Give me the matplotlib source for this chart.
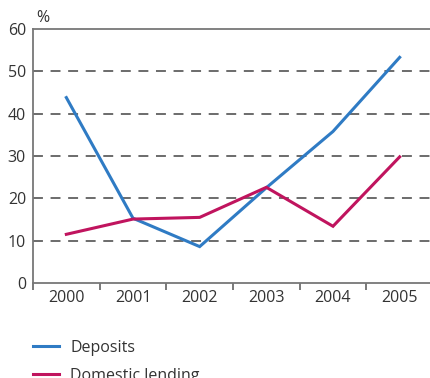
import matplotlib
matplotlib.use("Agg")
import matplotlib.pyplot as plt
from matplotlib.lines import Line2D

years = ["2000", "2001", "2002", "2003", "2004", "2005"]
deposits = [43.8, 15.3, 8.6, 22.5, 35.8, 53.3]
lending = [11.5, 15.1, 15.5, 22.6, 13.4, 29.8]
yticks = [0, 10, 20, 30, 40, 50, 60]

plt.rcParams['font.family'] = ['Open Sans', 'DejaVu Sans']
W, H = 430, 378
fig = plt.figure(figsize=(W/100, H/100), dpi=100)
ax = fig.add_axes([33/W, 1-283/H, 400/W, 254/H])

blue = '#2f7bc4'
red = '#c0145e'
x = list(range(len(years)))
ax.plot(x, deposits, color=blue, lw=2.2, solid_joinstyle='miter', zorder=3)
ax.plot(x, lending, color=red, lw=2.2, solid_joinstyle='miter', zorder=3)

ax.set_xlim(-0.5, 5.5)
ax.set_ylim(0, 60)
for v in yticks[1:-1]:
    ax.axhline(v, color='#444444', lw=1.1, dashes=(6.5, 5), zorder=1)

ax.set_yticks(yticks)
ax.set_yticklabels([str(v) for v in yticks], fontsize=11.5, color='#333333')
ax.tick_params(axis='y', length=0, pad=5)
ax.set_xticks(x)
ax.set_xticklabels(years, fontsize=11.5, color='#333333')
ax.set_xticks([i - 0.5 for i in range(len(years) + 1)], minor=True)
ax.tick_params(axis='x', which='major', length=0, pad=5)
ax.tick_params(axis='x', which='minor', length=5, width=1.1, color='#555555', direction='out')

for s in ['left', 'bottom', 'top']:
    ax.spines[s].set_color('#777777')
    ax.spines[s].set_linewidth(1.3)
ax.spines['right'].set_visible(False)

fig.text(36/W, 1-18/H, '%', fontsize=11.5, color='#333333', va='center', ha='left')

handles = [Line2D([], [], color=blue, lw=2.2), Line2D([], [], color=red, lw=2.2)]
fig.legend(handles, ['Deposits', 'Domestic lending'], loc='upper left',
           bbox_to_anchor=(25.5/W, 1-332/H), frameon=False, fontsize=11.5,
           handlelength=1.6, handletextpad=0.7, labelspacing=0.75, borderpad=0,
           labelcolor='#333333')

fig.savefig('out.png', dpi=100)
